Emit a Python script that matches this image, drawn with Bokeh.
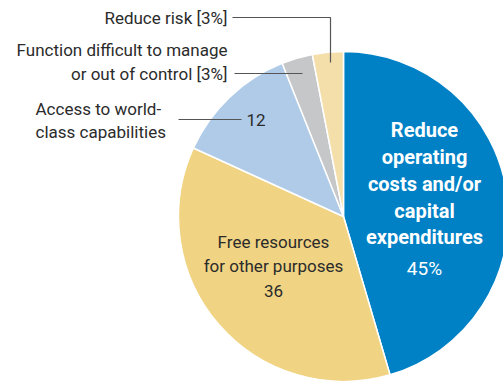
import math
from bokeh.plotting import figure
from bokeh.models import Range1d, ColumnDataSource
from bokeh.core.properties import value
from bokeh.embed import file_html
from bokeh.resources import INLINE

# ---- data ----
categories = ["Reduce operating costs and/or capital expenditures",
              "Free resources for other purposes",
              "Access to world-class capabilities",
              "Function difficult to manage or out of control",
              "Reduce risk"]
values = [45, 36, 12, 3, 3]
colors = ["#0081C6", "#F0D383", "#AFCBE8", "#C6C7C8", "#F4DFAA"]

# ---- layout ----
W, H = 503, 381
CX, CY, R = 343, 381 - 216, 165
FONT = "Roboto"

p = figure(width=W, height=H, x_range=Range1d(0, W), y_range=Range1d(0, H),
           output_backend="svg", toolbar_location=None, min_border=0)
p.axis.visible = False
p.grid.visible = False
p.outline_line_color = None
p.background_fill_color = "white"

total = sum(values)
starts, ends = [], []
cum = 0.0
for v in values:
    starts.append(math.pi / 2 - 2 * math.pi * cum / total)
    cum += v
    ends.append(math.pi / 2 - 2 * math.pi * cum / total)

src = ColumnDataSource(dict(x=[CX] * len(values), y=[CY] * len(values),
                            start=starts, end=ends, color=colors))
p.wedge(x="x", y="y", radius=R, start_angle="start", end_angle="end",
        direction="clock", fill_color="color", line_color="white",
        line_width=1.5, source=src)

def Y(y):
    return H - y

def txt(x, y, s, color="#2b2b2b", size="17px", align="left", bold=False):
    p.text(x=[x], y=[Y(y)], text=[s], text_color=color,
           text_font=value(FONT), text_font_size=size,
           text_align=align, text_baseline="middle",
           text_font_style="bold" if bold else "normal")

# inner labels
for s, y in [("Reduce", 129), ("operating", 156), ("costs and/or", 183),
             ("capital", 210), ("expenditures", 236)]:
    txt(424, y, s, color="white", size="20px", align="center", bold=True)
txt(424, 268, f"{values[0]}%", color="white", size="19px", align="center")

txt(273, 241, "Free resources", align="center")
txt(273, 265, "for other purposes", align="center")
txt(273, 290, f"{values[1]}", align="center")

# outer labels
txt(227, 17, f"{categories[4]} [{values[4]}%]", align="right")
txt(227, 49, "Function difficult to manage", align="right")
txt(227, 73, f"or out of control [{values[3]}%]", align="right")
txt(35, 108, "Access to world-")
txt(35, 131, "class capabilities")
txt(246, 119, f"{values[2]}")

# leader lines
lc = "#555555"
p.line(x=[232, 330, 330], y=[Y(17), Y(17), Y(62)], line_color=lc, line_width=1.2)
p.line(x=[234, 302], y=[Y(73), Y(73)], line_color=lc, line_width=1.2)
p.line(x=[178, 241], y=[Y(119), Y(119)], line_color=lc, line_width=1.2)

open("out.html", "w").write(file_html(p, INLINE))
